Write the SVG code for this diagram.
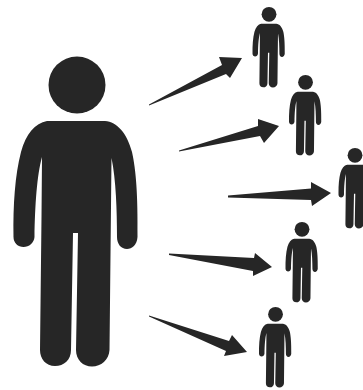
<svg xmlns="http://www.w3.org/2000/svg" width="363" height="390" viewBox="0 0 363 390">
<style>.f{fill:#262626}</style>
<defs>
<g id="person" class="f">
<circle cx="77" cy="85" r="28.5"/>
<path d="M47 121H105C117 122 127 133 132 152C136 170 138 195 137.500 237C137 245 132 249 127 249C121 249 117 244 117 237C117 210 116 180 111.500 158L109.500 350C109 360 101 366.500 92 366.500C83 366.500 76 360 76 350L78 233H73L71 350C71 360 64 366 55 366C46 366 40 359 40 350L41.500 217L42 157C37 175 35 205 34.500 237C34 243 29 247 23.500 247C18 247 13.500 243 13.500 237C13 205 15 175 21 152C26 134 35 123 47 121Z"/>
</g>
</defs>
<rect width="363" height="390" fill="#fff"/>
<g id="connectors" class="f">
<path d="M149 104.500L222 65L219 57L242 58L230 78L226 74L149 105.500Z"/>
<path d="M179 150.500L258 126L258 119L279 126L264 143L260 136L179 151.500Z"/>
<path d="M228 195.500L311 188.500L311 182L331 193L312 206L311 200L228 197.500Z"/>
<path d="M169 253.500L254 258L255 253L272 267L253 276L253 271L169 255Z"/>
<path d="M149 315.500L229 341L232 335L247 352L224 356L226 351L149 316.500Z"/>
</g>
<g id="main-person"><use href="#person"/></g>
<g id="person-1"><use href="#person" transform="translate(249 -7.800) scale(.26)"/></g>
<g id="person-2"><use href="#person" transform="translate(285.500 60.200) scale(.26)"/></g>
<g id="person-3"><use href="#person" transform="translate(335 133.200) scale(.26)"/></g>
<g id="person-4"><use href="#person" transform="translate(282 207.200) scale(.26)"/></g>
<g id="person-5"><use href="#person" transform="translate(255.500 292.200) scale(.26)"/></g>
</svg>
